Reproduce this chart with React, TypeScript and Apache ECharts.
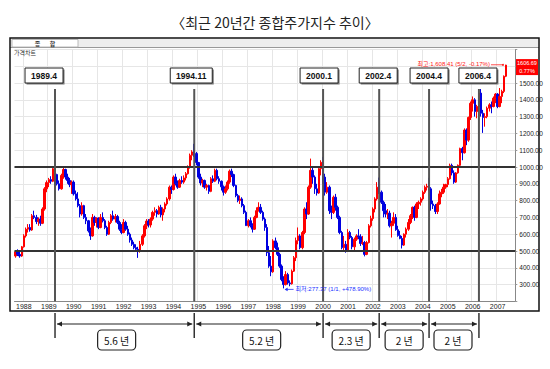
import React, { useEffect, useRef } from "react";
import * as echarts from "echarts";

const TITLE = "〈최근 20년간 종합주가지수 추이〉";
const START_YEAR = 1987;
const START_MONTH = 9;
const MONTH_COUNT = 241; // 1987-09 .. 2007-09

const yearLabels = ["1988","1989","1990","1991","1992","1993","1994","1995","1996","1997","1998","1999","2000","2001","2002","2003","2004","2005","2006","2007"];

// monthly candles [open, close, low, high]
const y1987 = [[470,495,460,500],[495,480,470,510],[480,470,460,500],[470,525,465,530]];
const y1988 = [[525,590,520,600],[590,630,580,640],[630,640,610,660],[640,625,615,660],[625,710,620,720],[710,700,690,740],[700,675,660,715],[675,690,650,700],[690,665,650,710],[665,750,660,760],[750,870,740,880],[870,907,850,920]];
const y1989 = [[907,925,880,935],[925,915,900,945],[915,990,910,1000],[990,955,940,1008],[955,900,890,960],[900,870,860,920],[870,950,865,960],[950,985,930,995],[985,940,925,990],[940,920,900,960],[920,895,880,935],[895,910,840,920]];
const y1990 = [[910,840,830,920],[840,810,800,860],[810,770,760,850],[770,720,700,780],[720,770,710,790],[770,700,690,775],[700,680,660,720],[680,620,610,685],[620,590,566,640],[590,700,585,720],[700,670,650,710],[670,696,640,700]];
const y1991 = [[696,640,630,700],[640,700,635,720],[700,680,670,730],[680,640,630,690],[640,600,590,650],[600,670,595,680],[670,710,660,720],[710,690,680,740],[690,705,670,720],[705,670,660,715],[670,630,620,680],[630,610,600,660]];
const y1992 = [[610,670,605,690],[670,630,620,680],[630,600,590,650],[600,565,550,610],[565,540,530,580],[540,520,510,555],[520,510,500,540],[510,500,459,525],[500,540,490,560],[540,590,530,600],[590,650,580,660],[650,678,630,690]];
const y1993 = [[678,655,640,690],[655,690,640,700],[690,730,680,740],[730,740,710,760],[740,720,700,750],[720,760,715,770],[760,715,700,775],[715,750,680,760],[750,780,730,790],[780,810,770,820],[810,880,800,890],[880,866,840,890]];
const y1994 = [[866,940,860,950],[940,900,890,960],[900,880,870,920],[880,920,875,930],[920,910,900,945],[910,935,900,950],[935,960,920,970],[960,1000,955,1010],[1000,1070,990,1080],[1070,1090,1040,1100],[1090,1080,1060,1138],[1080,1027,1010,1090]];
const y1995 = [[1027,940,930,1030],[940,905,890,960],[905,920,880,930],[920,880,870,925],[880,890,860,900],[890,855,840,895],[855,930,850,940],[930,915,905,950],[915,980,910,990],[980,930,920,990],[930,915,900,945],[915,882,860,920]];
const y1996 = [[882,850,830,890],[850,870,840,890],[870,910,860,920],[910,975,900,985],[975,955,940,990],[955,890,880,960],[890,830,820,895],[830,800,790,840],[800,810,780,830],[810,770,760,820],[770,730,720,780],[730,651,650,740]];
const y1997 = [[651,680,640,690],[680,650,640,700],[650,630,610,665],[630,700,625,710],[700,740,695,760],[740,760,735,790],[760,730,720,780],[730,690,680,740],[690,640,620,700],[640,490,470,660],[490,410,400,530],[410,376,350,470]];
const y1998 = [[376,560,370,570],[560,520,510,580],[520,480,470,550],[480,410,400,490],[410,330,320,420],[330,300,277.37,350],[300,360,295,380],[360,310,300,370],[310,305,290,325],[305,380,300,390],[380,460,375,470],[460,562,440,580]];
const y1999 = [[562,590,540,640],[590,520,510,600],[520,610,510,620],[610,750,600,760],[750,720,690,790],[720,880,715,890],[880,980,870,1050],[980,940,900,1000],[940,870,840,950],[870,845,830,900],[845,990,840,1000],[990,1028,950,1040]];
const y2000 = [[1028,940,900,1060],[940,850,830,960],[850,880,840,910],[880,740,720,890],[740,730,690,770],[730,820,720,830],[820,760,740,840],[760,700,690,770],[700,610,600,710],[610,520,510,620],[520,540,500,590],[540,504,490,560]];
const y2001 = [[504,610,500,630],[610,580,570,620],[580,525,510,590],[525,570,500,580],[570,590,560,600],[590,585,570,630],[585,545,530,600],[545,550,535,590],[550,480,468,560],[480,550,475,560],[550,650,545,660],[650,693,640,710]];
const y2002 = [[693,750,680,760],[750,810,730,820],[810,880,800,910],[880,850,840,937],[850,790,780,860],[790,740,700,800],[740,720,700,780],[720,725,690,750],[725,650,640,740],[650,665,580,680],[665,700,650,730],[700,627,620,720]];
const y2003 = [[627,592,585,650],[592,575,570,620],[575,535,515,590],[535,600,530,605],[600,630,580,640],[630,670,620,690],[670,710,660,720],[710,760,690,765],[760,700,680,770],[700,780,695,790],[780,790,750,800],[790,810,770,820]];
const y2004 = [[810,850,800,860],[850,880,840,890],[880,885,860,900],[885,870,860,936],[870,780,740,880],[780,770,750,800],[770,735,720,780],[735,780,720,790],[780,840,775,860],[840,850,820,870],[850,880,840,900],[880,896,870,900]];
const y2005 = [[896,930,880,940],[930,1010,925,1020],[1010,965,950,1020],[965,910,900,980],[910,965,905,970],[965,1010,960,1015],[1010,1110,1000,1115],[1110,1085,1040,1120],[1085,1220,1080,1230],[1220,1160,1130,1230],[1160,1295,1150,1300],[1295,1379,1280,1390]];
const y2006 = [[1379,1400,1330,1420],[1400,1330,1300,1410],[1330,1360,1290,1370],[1360,1440,1355,1450],[1440,1320,1300,1464],[1320,1295,1203,1340],[1295,1300,1240,1320],[1300,1350,1290,1360],[1350,1370,1330,1380],[1370,1360,1320,1390],[1360,1410,1355,1420],[1410,1434,1380,1440]];
const y2007 = [[1434,1360,1350,1440],[1360,1420,1355,1470],[1420,1450,1380,1460],[1450,1540,1440,1545],[1540,1606.69,1535,1608.41]];

const levels = [1000, 500];
const markMonths = ["1989-04", "1994-11", "2000-01", "2002-04", "2004-04", "2006-04"];
const markLabels = ["1989.4", "1994.11", "2000.1", "2002.4", "2004.4", "2006.4"];
const markDx = [-11, -3, -4, -1, 0, -1];
const spanLabels = ["5.6 년", "5.2 년", "2.3 년", "2 년", "2 년"];
const spanDx = [-8, 3, 0, 0, -1];

const highText = "최고:1,608.41 (5/2, -0.17%)";
const lowText = "최저:277.37 (1/1, +478.90%)";
const lastPrice = "1606.69";
const lastChange = "0.77%";
const highMonth = "2007-05";
const highValue = 1608.41;
const lowMonth = "1998-06";
const lowValue = 277.37;
const lastValue = 1606.69;

const categories: string[] = [];
for (let i = 0; i < MONTH_COUNT; i++) {
  const m0 = START_MONTH - 1 + i;
  const yy = START_YEAR + Math.floor(m0 / 12);
  const mm = (m0 % 12) + 1;
  categories.push(`${yy}-${mm < 10 ? "0" + mm : mm}`);
}

const candles = [
  ...y1987, ...y1988, ...y1989, ...y1990, ...y1991, ...y1992, ...y1993, ...y1994,
  ...y1995, ...y1996, ...y1997, ...y1998, ...y1999, ...y2000, ...y2001, ...y2002,
  ...y2003, ...y2004, ...y2005, ...y2006, ...y2007,
];

const NARROW = "'Liberation Sans Narrow', 'Liberation Sans', 'Noto Sans CJK KR', sans-serif";
const KR = "'Noto Sans CJK KR', 'Noto Sans', sans-serif";

function txt(text: string, x: number, y: number, font: string, fill: string, align = "center", z = 120) {
  return {
    type: "text",
    z,
    style: {
      text, x, y, font, fill,
      textAlign: align, align,
      textVerticalAlign: "middle", verticalAlign: "middle",
    },
  };
}

export default function App() {
  const ref = useRef<HTMLDivElement>(null);
  useEffect(() => {
    if (!ref.current) return;
    const chart = echarts.init(ref.current, null, { renderer: "svg" });
    const option: any = {
      animation: false,
      backgroundColor: "#ffffff",
      grid: { left: 14.5, right: 34.7, top: 49.4, bottom: 67.6, show: false },
      xAxis: {
        type: "category",
        data: categories,
        boundaryGap: true,
        axisLine: { show: true, lineStyle: { color: "#888", width: 1 } },
        axisTick: { show: false },
        axisLabel: {
          interval: (idx: number, val: string) => yearLabels.indexOf(val.slice(0, 4)) >= 0 && val.endsWith("-01"),
          formatter: (val: string) => val.slice(0, 4),
          fontSize: 7,
          fontFamily: NARROW,
          color: "#222",
          margin: 1.5,
        },
        splitLine: {
          show: true,
          interval: (idx: number, val: string) => val.endsWith("-01"),
          lineStyle: { color: "#e6e6e6", width: 1 },
        },
      },
      yAxis: {
        type: "value",
        position: "right",
        min: 200,
        max: 1700,
        interval: 100,
        axisLine: { show: true, lineStyle: { color: "#888", width: 1 } },
        axisTick: { show: true, length: 2, lineStyle: { color: "#999" } },
        axisLabel: {
          formatter: (v: number) => (v >= 300 && v <= 1500 ? v.toFixed(2) : ""),
          fontSize: 6.5,
          fontFamily: NARROW,
          color: "#222",
          margin: 4,
        },
        splitLine: { show: true, lineStyle: { color: "#e6e6e6", width: 1 } },
      },
      series: [
        {
          type: "candlestick",
          data: candles,
          barWidth: 2,
          itemStyle: {
            color: "#ff0000",
            color0: "#0000e0",
            borderColor: "#ff0000",
            borderColor0: "#0000e0",
            borderWidth: 1,
          },
          markLine: {
            silent: true,
            symbol: ["none", "none"],
            label: { show: false },
            lineStyle: { color: "#333", width: 2, type: "solid" },
            data: levels.map((v) => ({ yAxis: v })),
          },
        },
      ],
    };
    chart.setOption(option);

    const X = (c: string) => chart.convertToPixel({ xAxisIndex: 0 }, c) as number;
    const Y = (v: number) => chart.convertToPixel({ yAxisIndex: 0 }, v) as number;
    const bottom = Y(200);

    const els: any[] = [];
    // title
    els.push(txt(TITLE, 275, 22, `14px ${KR}`, "#222"));
    // frame
    els.push({ type: "rect", z: 110, shape: { x: 11, y: 39, width: 527, height: 8 }, style: { fill: "#eeeeee", stroke: "none" } });
    els.push({ type: "line", z: 111, shape: { x1: 10, y1: 47.5, x2: 539, y2: 47.5 }, style: { stroke: "#999", lineWidth: 1 } });
    els.push({ type: "rect", z: 112, shape: { x: 12, y: 39.5, width: 66, height: 7.5 }, style: { fill: "#ffffff", stroke: "#aaa", lineWidth: 0.8 } });
    els.push(txt("종       합", 45, 43.5, `bold 6px ${KR}`, "#333", "center", 113));
    els.push(txt("가격차트", 14, 52.5, `6px ${KR}`, "#333", "left", 113));
    els.push({ type: "rect", z: 130, shape: { x: 10, y: 38, width: 529, height: 273 }, style: { fill: "none", stroke: "#111", lineWidth: 1.5 } });

    // vertical markers
    const xs = markMonths.map((m) => X(m));
    xs.forEach((x, i) => {
      els.push({ type: "line", z: 115, shape: { x1: x, y1: 89, x2: x, y2: bottom }, style: { stroke: "#555", lineWidth: 2 } });
      els.push({ type: "line", z: 115, shape: { x1: x, y1: 313, x2: x, y2: 338 }, style: { stroke: "#333", lineWidth: 1.5 } });
      const w = markLabels[i].length > 6 ? 42 : 38;
      const cx = x + markDx[i];
      els.push({ type: "rect", z: 116, shape: { x: cx - w / 2 + 1.5, y: 69.5, width: w, height: 15 }, style: { fill: "#777", stroke: "none" } });
      els.push({ type: "rect", z: 117, shape: { x: cx - w / 2, y: 68, width: w, height: 15 }, style: { fill: "#ffffff", stroke: "#222", lineWidth: 1 } });
      els.push(txt(markLabels[i], cx, 75.5, `bold 8.5px 'Liberation Sans', sans-serif`, "#111", "center", 118));
    });

    // spans
    for (let i = 0; i < spanLabels.length; i++) {
      const x1 = xs[i] + 2;
      const x2 = xs[i + 1] - 2;
      const ay = 324;
      els.push({ type: "line", z: 115, shape: { x1, y1: ay, x2, y2: ay }, style: { stroke: "#222", lineWidth: 1.2 } });
      els.push({ type: "polygon", z: 115, shape: { points: [[x1, ay], [x1 + 5, ay - 2.5], [x1 + 5, ay + 2.5]] }, style: { fill: "#222" } });
      els.push({ type: "polygon", z: 115, shape: { points: [[x2, ay], [x2 - 5, ay - 2.5], [x2 - 5, ay + 2.5]] }, style: { fill: "#222" } });
      const cx = (xs[i] + xs[i + 1]) / 2 + spanDx[i];
      els.push({ type: "rect", z: 116, shape: { x: cx - 19, y: 330, width: 38, height: 20, r: 4 }, style: { fill: "#ffffff", stroke: "#222", lineWidth: 1.2 } });
      els.push(txt(spanLabels[i], cx, 340, `10px ${KR}`, "#111", "center", 117));
    }

    // high annotation
    const hx = X(highMonth);
    const hy = Y(highValue);
    els.push(txt(highText, hx - 16, hy - 1, `6px ${NARROW}`, "#ff2020", "right", 120));
    els.push({ type: "line", z: 120, shape: { x1: hx - 15, y1: hy, x2: hx - 3, y2: hy }, style: { stroke: "#ff2020", lineWidth: 0.8 } });
    els.push({ type: "circle", z: 120, shape: { cx: hx - 3, cy: hy, r: 1 }, style: { fill: "#ff2020" } });

    // low annotation
    const lx = X(lowMonth);
    const ly = Y(lowValue) + 1;
    els.push({ type: "line", z: 120, shape: { x1: lx + 2, y1: ly, x2: lx + 10, y2: ly }, style: { stroke: "#2030ff", lineWidth: 0.8 } });
    els.push({ type: "polygon", z: 120, shape: { points: [[lx + 1, ly], [lx + 4, ly - 1.8], [lx + 4, ly + 1.8]] }, style: { fill: "#2030ff" } });
    els.push(txt(lowText, lx + 12, ly, `6px ${NARROW}`, "#2030ff", "left", 120));

    // last price box
    const py = Y(lastValue);
    els.push({ type: "rect", z: 125, shape: { x: 516, y: py - 6, width: 22, height: 16 }, style: { fill: "#ff0000", stroke: "none" } });
    els.push(txt(lastPrice, 527, py - 2, `5.5px ${NARROW}`, "#ffffff", "center", 126));
    els.push(txt(lastChange, 527, py + 5.5, `5.5px ${NARROW}`, "#ffffff", "center", 126));

    chart.setOption({ graphic: { elements: els } });
    return () => chart.dispose();
  }, []);
  return <div ref={ref} style={{ position: "fixed", left: 0, top: 0, width: 550, height: 369 }} />;
}
